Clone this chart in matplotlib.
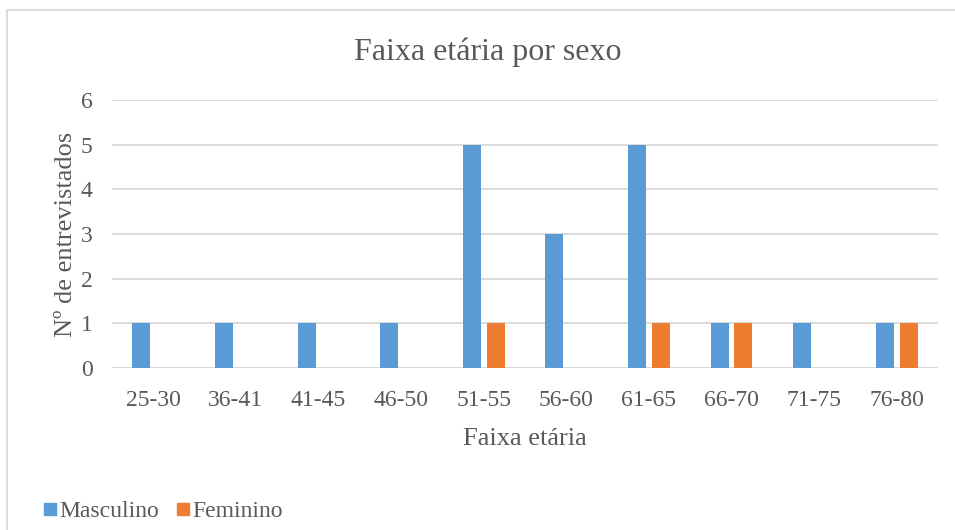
import numpy as np
import matplotlib.pyplot as plt
from matplotlib.patches import Rectangle
from matplotlib.lines import Line2D

faixas = ["25-30", "36-41", "41-45", "46-50", "51-55",
          "56-60", "61-65", "66-70", "71-75", "76-80"]
masculino = [1, 1, 1, 1, 5, 3, 5, 1, 1, 1]
feminino = [0, 0, 0, 0, 1, 0, 1, 1, 0, 1]

blue = "#5b9bd5"
orange = "#ed7d31"
txt = "#595959"
grid = "#d9d9d9"

plt.rcParams['font.family'] = ['Liberation Serif', 'DejaVu Serif']

W, H = 955, 530
fig = plt.figure(figsize=(W / 100, H / 100), dpi=100)
ax = fig.add_axes([112 / W, 1 - 368 / H, (938 - 112) / W, (368 - 100) / H])

x = np.arange(len(faixas))
bw = 0.218
off = 0.145
ax.bar(x - off, masculino, bw, color=blue, zorder=3)
ax.bar(x + off, feminino, bw, color=orange, zorder=3)

ax.set_xlim(-0.5, len(faixas) - 0.5)
ax.set_ylim(0, 6)
ax.set_yticks(range(7))
ax.set_xticks(x)
ax.set_xticklabels(faixas)
ax.yaxis.grid(True, color=grid, linewidth=1.3, zorder=0)
for s in ax.spines.values():
    s.set_visible(False)
ax.axhline(0, color=grid, linewidth=1.3, zorder=1)
ax.tick_params(length=0, labelsize=17, colors=txt)
ax.tick_params(axis='x', pad=16)
ax.tick_params(axis='y', pad=14)

ax.set_xlabel("Faixa etária", fontsize=19, color=txt, labelpad=12)
ax.set_ylabel("Nº de entrevistados", fontsize=19, color=txt, labelpad=3)

fig.text(488 / W, 1 - 52 / H, "Faixa etária por sexo", fontsize=23,
         color=txt, ha='center', va='center')

# chart border (right and bottom run past the image)
fig.patches.append(Rectangle((7 / W, -0.1), 1.2, 1 - 10 / H + 0.1,
                             transform=fig.transFigure, fill=False,
                             edgecolor=grid, linewidth=1.3))

handles = [Line2D([], [], marker='s', linestyle='', color=blue, markersize=8.5),
           Line2D([], [], marker='s', linestyle='', color=orange, markersize=8.5)]
leg = fig.legend(handles, ["Masculino", "Feminino"], loc='center left',
                 bbox_to_anchor=(29 / W, 1 - 511 / H), ncol=2, frameon=False,
                 fontsize=17, handletextpad=0.0, columnspacing=0.6,
                 handlelength=0.8, borderpad=0)
for t in leg.get_texts():
    t.set_color(txt)

fig.savefig("out.png", dpi=100)
